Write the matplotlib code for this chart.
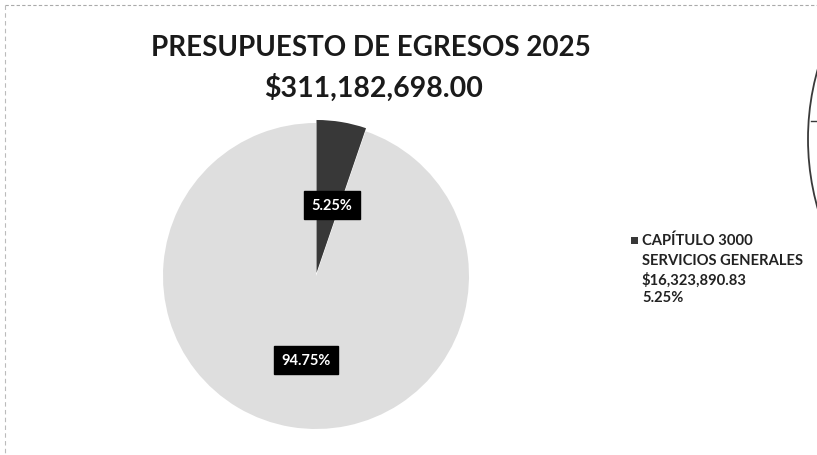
import matplotlib
matplotlib.use("Agg")
import matplotlib.pyplot as plt
from matplotlib.patches import Ellipse, Rectangle
from matplotlib.lines import Line2D

# ---- data ----
title_lines = ["PRESUPUESTO DE EGRESOS 2025", "$311,182,698.00"]
categories = ["CAPÍTULO 3000\nSERVICIOS GENERALES\n$16,323,890.83\n5.25%", "OTROS CAPÍTULOS"]
values = [16323890.83, 294858807.17]
pct_labels = ["5.25%", "94.75%"]
colors = ["#383838", "#dedede"]

W, H = 817, 456
fig = plt.figure(figsize=(W / 100, H / 100), dpi=100)
fig.patch.set_facecolor("white")

def fx(x): return x / W
def fy(y): return 1 - y / H

# title
fig.text(fx(371), fy(48), title_lines[0], ha="center", va="center",
         fontsize=20, fontweight="bold", family="Lato", color="#1a1a1a")
fig.text(fx(374), fy(88), title_lines[1], ha="center", va="center",
         fontsize=20.5, fontweight="bold", family="Lato", color="#1a1a1a")

# pie
cx, cy, r = 316, 277, 153
ax = fig.add_axes([fx(cx - r), fy(cy + r), 2 * r / W, 2 * r / H])
wedges, _ = ax.pie(values, colors=colors, startangle=90, counterclock=False,
                   explode=[0.02, 0], radius=1.0)
ax.set_xlim(-1, 1)
ax.set_ylim(-1, 1)
ax.set_aspect("auto")
ax.axis("off")

label_pos = [(0.105, 0.464), (-0.065, -0.55)]
for (px, py), lab in zip(label_pos, pct_labels):
    ax.text(px, py, lab, ha="center", va="center", color="white", fontsize=10.5,
            fontweight="bold", family="Lato",
            bbox=dict(boxstyle="square,pad=0.5", fc="black", ec="black"))

# legend (only first entry visible)
fig.patches.append(Rectangle((fx(631), fy(245)), 7 / W, 7 / H,
                             transform=fig.transFigure, fc=colors[0], ec="none"))
leg_lines = categories[0].split("\n")
ys = [241, 261, 280, 298]
for t, y in zip(leg_lines, ys):
    fig.text(fx(642), fy(y), t, ha="left", va="center", fontsize=10.6,
             fontweight="bold", family="Lato", color="#222222")

# partial circle of neighbouring chart on right edge
ell = Ellipse((fx(1062), fy(140)), 2 * 254 / W, 2 * 254 / H, transform=fig.transFigure,
              fill=False, ec="#3a3a3a", lw=1.3)
fig.patches.append(ell)
fig.lines.append(Line2D([fx(811), fx(817)], [fy(122), fy(122)], transform=fig.transFigure,
                        color="#3a3a3a", lw=1))

# scan border lines
fig.lines.append(Line2D([fx(5), fx(817)], [fy(6), fy(6)], transform=fig.transFigure,
                        color="#aaaaaa", lw=0.8, ls=(0, (3, 2))))
fig.lines.append(Line2D([fx(5), fx(5)], [fy(6), fy(456)], transform=fig.transFigure,
                        color="#bbbbbb", lw=0.8, ls=(0, (4, 3))))

fig.savefig("out.png", dpi=100, facecolor="white")
